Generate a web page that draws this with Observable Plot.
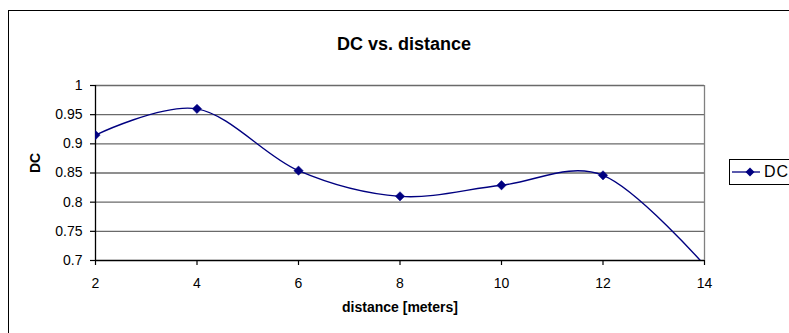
<!DOCTYPE html>
<html>
<head>
<meta charset="utf-8">
<script src="https://cdn.jsdelivr.net/npm/d3@7"></script>
<script src="https://cdn.jsdelivr.net/npm/@observablehq/plot@0.6"></script>
<style>
  html, body { margin: 0; padding: 0; background: #fff; overflow: hidden; }
  #wrap { position: relative; width: 789px; height: 333px; overflow: hidden; background: #fff; font-family: "Liberation Sans", Arial, sans-serif; }
  #outer { position: absolute; left: 8px; top: 10px; width: 900px; height: 400px; border: 1.5px solid #000; box-sizing: border-box; }
  #chart { position: absolute; left: 0; top: 0; }
  #legend { position: absolute; left: 729px; top: 159px; width: 120px; height: 26px; border: 1px solid #000; border-right: none; box-sizing: border-box; background: #fff; display: flex; align-items: center; font-size: 16px; }
  #legend svg { margin-left: 2px; flex: none; }
  #legend span { margin-left: 2px; letter-spacing: 1px; white-space: nowrap; }
</style>
</head>
<body>
<div id="wrap">
  <div id="outer"></div>
  <div id="chart"></div>
  <div id="legend"></div>
</div>
<script>
const title = "DC vs. distance";
const xLabel = "distance [meters]";
const yLabel = "DC";
const seriesName = "DC";
const distance = [2, 4, 6, 8, 10, 12, 14];
const dc = [0.915, 0.960, 0.854, 0.810, 0.829, 0.846, 0.692];
const xTicks = [2, 4, 6, 8, 10, 12, 14];
const yTicks = [0.7, 0.75, 0.8, 0.85, 0.9, 0.95, 1];
const yTickLabels = ["0.7", "0.75", "0.8", "0.85", "0.9", "0.95", "1"];

const data = distance.map((d, i) => ({distance: d, dc: dc[i]}));
const navy = "#000080";

const chart = Plot.plot({
  width: 789,
  height: 333,
  marginLeft: 95,
  marginRight: 85,
  marginTop: 85,
  marginBottom: 73,
  x: {domain: [2, 14]},
  y: {domain: [0.7, 1]},
  style: {fontFamily: "'Liberation Sans', Arial, sans-serif", fontSize: "14px", background: "transparent", color: "#000"},
  marks: [
    Plot.ruleY(yTicks.slice(1), {stroke: "#6a6a6a", strokeWidth: 1.3}),
    Plot.ruleX([xTicks[xTicks.length - 1]], {stroke: "#808080", strokeWidth: 1.3}),
    Plot.axisY({ticks: yTicks, tickFormat: d => yTickLabels[yTicks.indexOf(d)], tickSize: 5, tickPadding: 8, label: null, stroke: "#000", strokeWidth: 1.2, fill: "#000", style: "letter-spacing:0.3px"}),
    Plot.axisX({ticks: xTicks, tickFormat: d => String(d), tickSize: 5, tickPadding: 13, label: null, stroke: "#000", strokeWidth: 1.2, fill: "#000"}),
    Plot.ruleY([yTicks[0]], {stroke: "#000", strokeWidth: 1.3}),
    Plot.ruleX([xTicks[0]], {stroke: "#000", strokeWidth: 1.3}),
    Plot.line(data, {x: "distance", y: "dc", curve: "cardinal", stroke: navy, strokeWidth: 1.4, clip: true}),
    Plot.dot(data, {x: "distance", y: "dc", symbol: "diamond2", r: 4.2, fill: navy, stroke: navy, strokeWidth: 0.5, clip: true}),
    Plot.text([title], {frameAnchor: "top", dy: -48, dx: 4, text: d => d, fontSize: 18, fontWeight: "bold", fill: "#000", style: "letter-spacing:1px"}),
    Plot.text([xLabel], {frameAnchor: "bottom", dy: 51, text: d => d, fontSize: 14, fontWeight: "bold", fill: "#000", style: "letter-spacing:1px"}),
    Plot.text([yLabel], {frameAnchor: "left", dx: -60, rotate: -90, text: d => d, fontSize: 14, fontWeight: "bold", fill: "#000"})
  ]
});
document.getElementById("chart").appendChild(chart);

const legend = document.getElementById("legend");
legend.innerHTML = `<svg width="30" height="12" viewBox="0 0 30 12"><line x1="0" y1="6" x2="28" y2="6" stroke="${navy}" stroke-width="1.3"/><path d="M18,1.5 L22.5,6 L18,10.5 L13.5,6 Z" fill="${navy}"/></svg><span>${seriesName}</span>`;
</script>
</body>
</html>
